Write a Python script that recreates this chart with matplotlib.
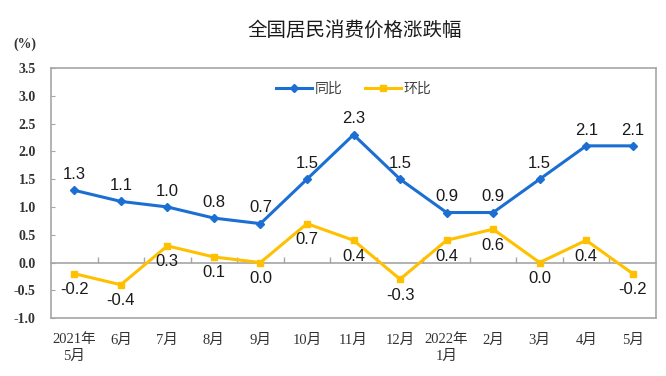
import matplotlib
matplotlib.use('Agg')
import matplotlib.pyplot as plt

months = ['2021年\n5月', '6月', '7月', '8月', '9月', '10月', '11月', '12月',
          '2022年\n1月', '2月', '3月', '4月', '5月']
yoy = [1.3, 1.1, 1.0, 0.8, 0.7, 1.5, 2.3, 1.5, 0.9, 0.9, 1.5, 2.1, 2.1]
mom = [-0.2, -0.4, 0.3, 0.1, 0.0, 0.7, 0.4, -0.3, 0.4, 0.6, 0.0, 0.4, -0.2]
yticks = [-1.0, -0.5, 0.0, 0.5, 1.0, 1.5, 2.0, 2.5, 3.0, 3.5]

blue = '#1b6fd3'
yellow = '#ffc000'
grey = '#a6a6a6'
serif = ['Liberation Serif', 'Noto Sans CJK SC']
sans = ['Liberation Sans', 'DejaVu Sans']
cjk = ['Noto Sans CJK SC', 'DejaVu Sans']

fig = plt.figure(figsize=(6.66, 3.76), dpi=100)
ax = fig.add_axes([0.0766, 0.154, 0.9084, 0.665])
x = list(range(len(months)))

ax.plot(x, yoy, color=blue, lw=2.2, marker='D', ms=4, label='同比', zorder=3)
ax.plot(x, mom, color=yellow, lw=2.2, marker='s', ms=4, label='环比', zorder=3)

for i, v in enumerate(yoy):
    ax.annotate(f'{v:.1f}', (i, v), xytext=(0, 6), textcoords='offset points',
                ha='center', va='bottom', fontsize=12, family=sans, color='#1a1a1a')
for i, v in enumerate(mom):
    ax.annotate(f'{v:.1f}', (i, v), xytext=(0, -6), textcoords='offset points',
                ha='center', va='top', fontsize=12, family=sans, color='#1a1a1a')

ax.set_xlim(-0.5, len(months) - 0.5)
ax.set_ylim(-1.0, 3.5)
ax.set_yticks(yticks)
ax.set_yticklabels([f'{t:.1f}' for t in yticks], family=serif, fontsize=10,
                   fontweight='bold', color='#333333')
ax.tick_params(axis='y', direction='in', length=3, color=grey, pad=11)
ax.set_xticks(x)
ax.set_xticklabels(months, family=serif, fontsize=10.5, color='#333333', linespacing=1.3)
ax.tick_params(axis='x', length=0, pad=11)
for sp in ax.spines.values():
    sp.set_color(grey)
    sp.set_linewidth(1.2)

# zero line with category boundary ticks
zero = ax.secondary_xaxis(1.0 / 4.5)
zero.set_xticks([i + 0.5 for i in x[:-1]])
zero.set_xticklabels([])
zero.tick_params(direction='in', length=4, color=grey, width=1)
zero.spines['bottom'].set_color(grey)
zero.spines['bottom'].set_linewidth(1.2)

leg = ax.legend(loc='upper center', bbox_to_anchor=(0.5, 0.995), ncol=2, frameon=False,
                prop={'family': cjk, 'size': 10}, handlelength=2.6, columnspacing=1.6,
                handletextpad=0.2)
for t in leg.get_texts():
    t.set_color('#404040')

fig.text(0.533, 0.92, '全国居民消费价格涨跌幅', ha='center', va='center',
         family=cjk, fontsize=14, color='#1a1a1a')
fig.text(0.038, 0.882, '(%)', ha='center', va='center', family=serif,
         fontsize=10, fontweight='bold', color='#333333')

fig.savefig('out.png', dpi=100)
